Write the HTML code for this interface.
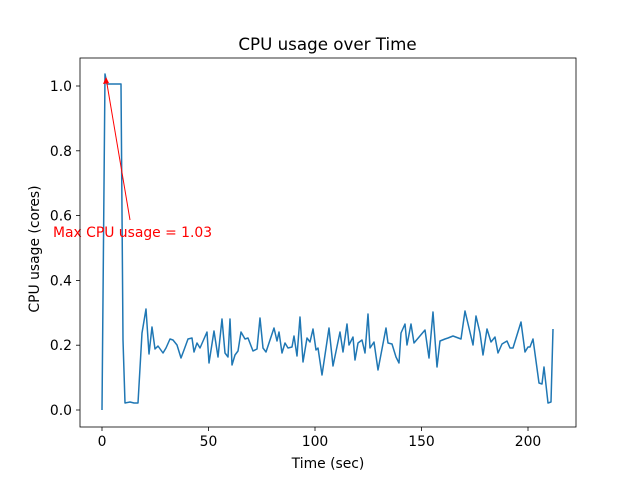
<!DOCTYPE html>
<html><head><style>body{margin:0;background:#fff}svg{display:block}text{font-family:"DejaVu Sans","Liberation Sans",sans-serif}</style></head><body>
<svg width="640" height="480" viewBox="0 0 640 480" xmlns="http://www.w3.org/2000/svg">
<rect width="640" height="480" fill="#fff"/>
<text x="327.5" y="50" font-size="16.7" text-anchor="middle">CPU usage over Time</text>
<polyline fill="none" stroke="#1f77b4" stroke-width="1.5" stroke-linejoin="round" points="102,410 105,74 107,84 121,84 123,340 125,403 130,402 134,403 138,403 142,333 146,309 149,354 152,327 155,349 158,346 163,353 166,348 170,339 173,340 177,345 181,358 184,350 188,339 192,338 194,352 197,343 200,348 207,332 209,363 214,331 218,357 222,319 225,353 228,357 230,319 232,365 235,355 238,351 241,332 245,339 248,338 253,351 257,349 260,318 263,348 266,352 274,328 277,341 279,332 282,353 285,343 288,348 292,347 294,336 297,356 300,317 303,362 307,338 310,342 313,329 316,350 318,348 322,375 329,328 333,366 340,332 343,352 347,324 349,345 353,337 355,360 358,343 362,340 365,353 368,314 370,348 374,342 378,370 386,328 388,343 392,344 396,357 399,363 401,333 405,324 407,345 411,324 414,343 425,330 429,358 433,312 437,367 440,341 445,339 448,338 453,336 461,339 465,311 473,345 476,316 480,333 483,355 487,329 491,342 495,337 498,353 502,344 507,341 510,348 513,348 521,322 525,352 528,347 530,347 533,339 539,383 542,384 544,367 548,403 551,402 553,329"/>
<line x1="106" y1="78" x2="130" y2="220" stroke="red" stroke-width="1"/>
<polygon points="106,77 103,84 109,83" fill="red"/>
<text x="53" y="237" font-size="13.9" fill="red">Max CPU usage = 1.03</text>
<rect x="80" y="58" width="496" height="369" fill="none" stroke="#000" stroke-width="0.8"/>
<g stroke="#000" stroke-width="0.8">
<line x1="102" y1="427" x2="102" y2="431"/><line x1="208.5" y1="427" x2="208.5" y2="431"/><line x1="315" y1="427" x2="315" y2="431"/><line x1="421.5" y1="427" x2="421.5" y2="431"/><line x1="528" y1="427" x2="528" y2="431"/>
<line x1="76" y1="410" x2="80" y2="410"/><line x1="76" y1="345.2" x2="80" y2="345.2"/><line x1="76" y1="280.4" x2="80" y2="280.4"/><line x1="76" y1="215.6" x2="80" y2="215.6"/><line x1="76" y1="150.8" x2="80" y2="150.8"/><line x1="76" y1="86" x2="80" y2="86"/>
</g>
<g font-size="13.9" text-anchor="middle">
<text x="102" y="446">0</text><text x="208.5" y="446">50</text><text x="315" y="446">100</text><text x="421.5" y="446">150</text><text x="528" y="446">200</text>
</g>
<g font-size="13.9" text-anchor="end">
<text x="72" y="415">0.0</text><text x="72" y="350.2">0.2</text><text x="72" y="285.4">0.4</text><text x="72" y="220.6">0.6</text><text x="72" y="155.8">0.8</text><text x="72" y="91">1.0</text>
</g>
<text x="328" y="468" font-size="13.9" text-anchor="middle">Time (sec)</text>
<text x="0" y="0" font-size="13.9" text-anchor="middle" transform="translate(39,249) rotate(-90)">CPU usage (cores)</text>
</svg>
</body></html>
